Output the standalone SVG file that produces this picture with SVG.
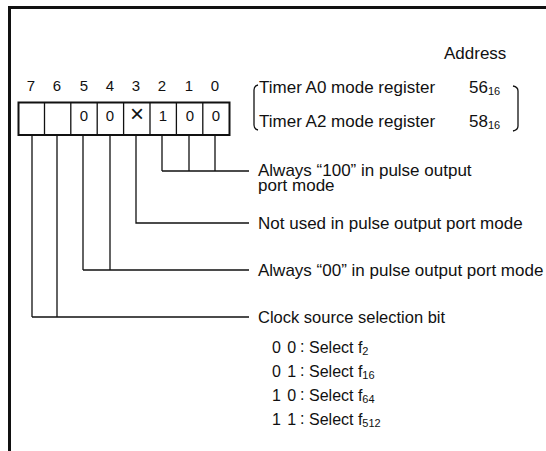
<svg xmlns="http://www.w3.org/2000/svg" width="546" height="451" viewBox="0 0 546 451">
<style>
text{font-family:"Liberation Sans",Arial,sans-serif;fill:#111;font-size:17px}
.bit{font-size:15px;text-anchor:middle}
.cell{font-size:15px;text-anchor:middle}
.tab{font-size:16px}
.sub{font-size:11px}
.ln{stroke:#111;stroke-width:1.3;fill:none}
</style>
<rect width="546" height="451" fill="#fff"/>
<g id="frame">
<line x1="8" y1="7.5" x2="546" y2="7.5" stroke="#111" stroke-width="3"/>
<line x1="9.5" y1="6" x2="9.5" y2="451" stroke="#111" stroke-width="3"/>
</g>
<g id="address"><text x="444" y="59">Address</text></g>
<g id="bitnumbers">
<text class="bit" x="31" y="91">7</text>
<text class="bit" x="57" y="91">6</text>
<text class="bit" x="84" y="91">5</text>
<text class="bit" x="110" y="91">4</text>
<text class="bit" x="136" y="91">3</text>
<text class="bit" x="162" y="91">2</text>
<text class="bit" x="189" y="91">1</text>
<text class="bit" x="215" y="91">0</text>
</g>
<g id="register">
<rect x="18.5" y="102.5" width="211" height="32.5" fill="none" stroke="#111" stroke-width="2"/>
<path class="ln" d="M44.5 102.5V135M70.8 102.5V135M97.2 102.5V135M123.6 102.5V135M150 102.5V135M176.4 102.5V135M202.8 102.5V135" stroke-width="1.6"/>
<text class="cell" x="84" y="121">0</text>
<text class="cell" x="110" y="121">0</text>
<text class="cell" x="137" y="122" style="font-size:24px;font-weight:300">×</text>
<text class="cell" x="163" y="121">1</text>
<text class="cell" x="190" y="121">0</text>
<text class="cell" x="216" y="121">0</text>
</g>
<g id="registers-label">
<path class="ln" d="M258 85Q254 86 254 90V125Q254 129 258 130" stroke-width="1"/>
<text x="259" y="93">Timer A0 mode register</text>
<text x="259" y="127">Timer A2 mode register</text>
<text x="469" y="93">56<tspan class="sub" dy="2">16</tspan></text>
<text x="469" y="127">58<tspan class="sub" dy="2">16</tspan></text>
<path class="ln" d="M513 86Q518 87 518 91V126Q518 130 513 131" stroke-width="1.3"/>
</g>
<g id="connectors">
<path class="ln" d="M162 135V171M189 135V171M215 135V171M162 171H249"/>
<path class="ln" d="M136 135V223H249"/>
<path class="ln" d="M83 135V270M110 135V270M83 270H249"/>
<path class="ln" d="M32 135V317M57 135V317M32 317H249"/>
</g>
<g id="label-100">
<text x="258" y="176">Always “100” in pulse output<tspan x="258" dy="15">port mode</tspan></text>
</g>
<g id="label-notused"><text x="258" y="229">Not used in pulse output port mode</text></g>
<g id="label-00"><text x="258" y="276">Always “00” in pulse output port mode</text></g>
<g id="label-clock"><text x="258" y="323" style="font-size:16.5px">Clock source selection bit</text></g>
<g id="clock-table">
<text class="tab" x="272" y="353" style="word-spacing:2px">0 0</text><text class="tab" x="300" y="352">:</text><text class="tab" x="309" y="353">Select f<tspan class="sub" dy="2">2</tspan></text>
<text class="tab" x="272" y="377" style="word-spacing:2px">0 1</text><text class="tab" x="300" y="376">:</text><text class="tab" x="309" y="377">Select f<tspan class="sub" dy="2">16</tspan></text>
<text class="tab" x="272" y="401" style="word-spacing:2px">1 0</text><text class="tab" x="300" y="400">:</text><text class="tab" x="309" y="401">Select f<tspan class="sub" dy="2">64</tspan></text>
<text class="tab" x="272" y="425" style="word-spacing:2px">1 1</text><text class="tab" x="300" y="424">:</text><text class="tab" x="309" y="425">Select f<tspan class="sub" dy="2">512</tspan></text>
</g>
</svg>
